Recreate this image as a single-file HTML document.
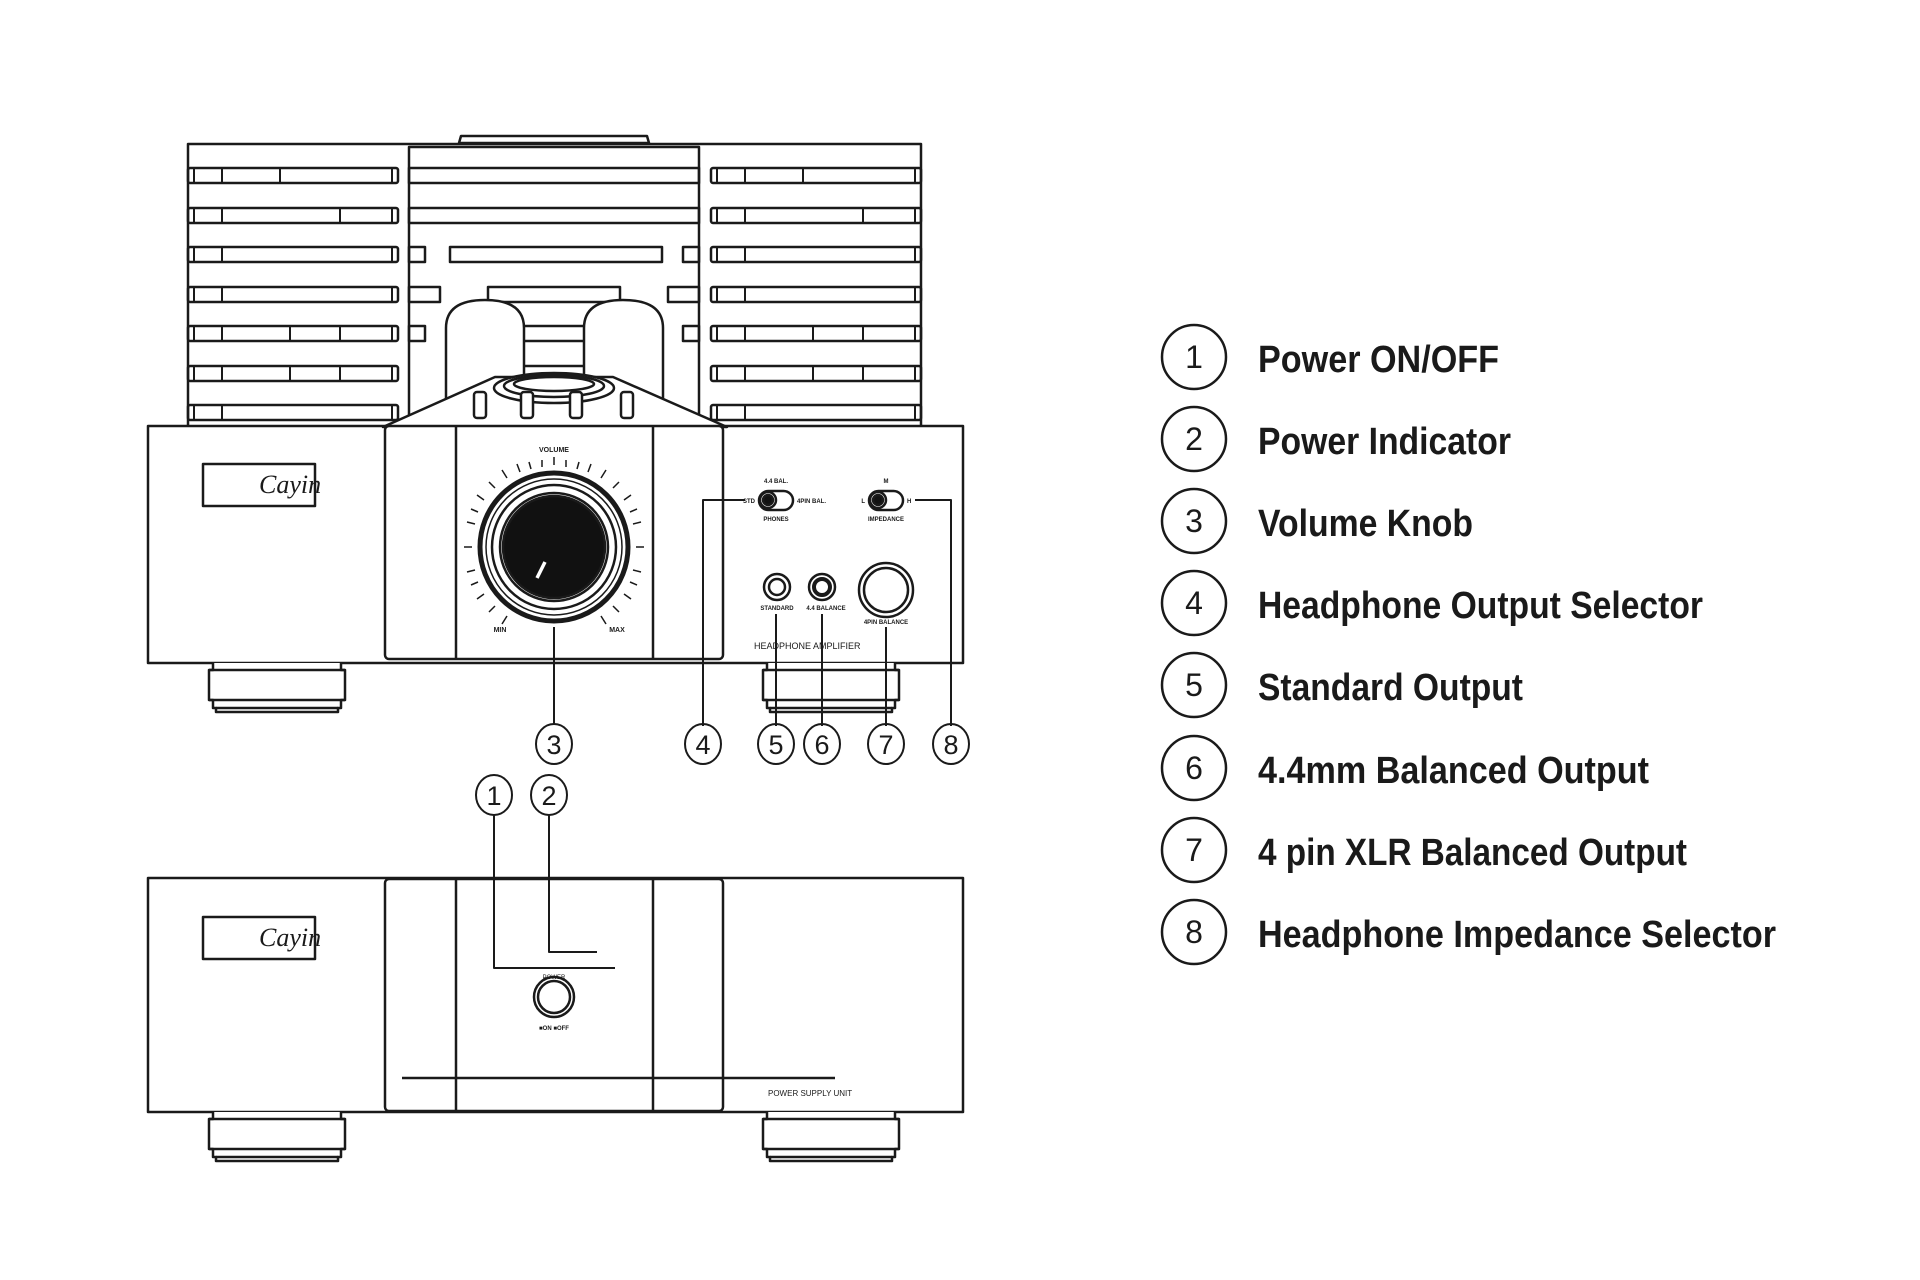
<!DOCTYPE html>
<html><head><meta charset="utf-8"><style>
html,body{margin:0;padding:0;background:#fff}
svg{display:block}
.t{font-family:"Liberation Sans",sans-serif}
</style></head><body>
<svg width="1920" height="1280" viewBox="0 0 1920 1280" xmlns="http://www.w3.org/2000/svg">
<g fill="none" stroke="#1a1a1a" stroke-width="2.5" stroke-linejoin="round">
<path d="M459 143 L461 136 L647 136 L649 143 Z" fill="#fff"/>
<rect x="188" y="144" width="733" height="285" fill="#fff"/>
<g id="slats">
<rect x="188" y="168" width="210" height="15" rx="2"/>
<rect x="188" y="208" width="210" height="15" rx="2"/>
<rect x="188" y="247" width="210" height="15" rx="2"/>
<rect x="188" y="287" width="210" height="15" rx="2"/>
<rect x="188" y="326" width="210" height="15" rx="2"/>
<rect x="188" y="366" width="210" height="15" rx="2"/>
<rect x="188" y="405" width="210" height="15" rx="2"/>
<path d="M222 168v15M222 208v15M222 247v15M222 287v15M222 326v15M222 366v15M222 405v15M194 168v15M194 208v15M194 247v15M194 287v15M194 326v15M194 366v15M194 405v15M392 168v15M392 208v15M392 247v15M392 287v15M392 326v15M392 366v15M392 405v15M280 168v15M340 208v15M290 326v15M290 366v15M340 326v15M340 366v15" stroke-width="2"/>
</g>
<use href="#slats" transform="translate(523 0)"/>
<rect x="409" y="147" width="290" height="282"/>
<rect x="409" y="168" width="290" height="15"/>
<rect x="409" y="208" width="290" height="15"/>
<rect x="450" y="247" width="212" height="15"/>
<rect x="409" y="247" width="16" height="15"/>
<rect x="683" y="247" width="16" height="15"/>
<rect x="409" y="287" width="31" height="15"/>
<rect x="488" y="287" width="132" height="15"/>
<rect x="668" y="287" width="31" height="15"/>
<rect x="409" y="326" width="16" height="15"/>
<rect x="683" y="326" width="16" height="15"/>
<path d="M446 429 V328 Q446 300 485 300 Q524 300 524 328 V429" fill="#fff"/>
<path d="M584 429 V328 Q584 300 623 300 Q663 300 663 328 V429" fill="#fff"/>
<path d="M524 326h60M524 341h60M524 366h60M524 381h60"/>
<rect x="148" y="426" width="815" height="237" fill="#fff"/>
<path d="M383 427 L495 377 L613 377 L727 427 Z" fill="#fff"/>
<ellipse cx="554" cy="388" rx="60" ry="15" fill="#fff"/>
<ellipse cx="554" cy="386" rx="50" ry="11"/>
<ellipse cx="554" cy="384" rx="40" ry="7"/>
<g fill="#fff">
<rect x="474" y="392" width="12" height="26" rx="3"/>
<rect x="521" y="392" width="12" height="26" rx="3"/>
<rect x="570" y="392" width="12" height="26" rx="3"/>
<rect x="621" y="392" width="12" height="26" rx="3"/>
</g>
<rect x="385" y="426" width="338" height="233" rx="4" fill="#fff"/>
<path d="M456 426V659M653 426V659"/>
<rect x="203" y="464" width="112" height="42"/>
<circle cx="554" cy="547" r="74" stroke-width="5"/>
<circle cx="554" cy="547" r="68" stroke-width="1.5"/>
<circle cx="554" cy="547" r="62"/>
<circle cx="554" cy="547" r="54"/>
<circle cx="554" cy="547" r="51" fill="#111"/>
<path d="M537 578 L545 562" stroke="#fff" stroke-width="3.5"/>
<g id="foot" fill="#fff">
<path d="M213 663 V670 H209 V700 H213 V708 H216 V712 H338 V708 H341 V700 H345 V670 H341 V663"/>
<path d="M209 670H345M209 700H345M216 708H338"/>
</g>
<use href="#foot" transform="translate(554 0)"/>
<rect x="759" y="491" width="34" height="19" rx="9.5"/>
<circle cx="768" cy="500" r="8"/>
<circle cx="768" cy="500" r="5" fill="#111"/>
<rect x="869" y="491" width="34" height="19" rx="9.5"/>
<circle cx="878" cy="500" r="8"/>
<circle cx="878" cy="500" r="5" fill="#111"/>
<circle cx="777" cy="587" r="13"/><circle cx="777" cy="587" r="8"/>
<circle cx="822" cy="587" r="13"/><circle cx="822" cy="587" r="8" stroke-width="4"/>
<circle cx="886" cy="590" r="27"/><circle cx="886" cy="590" r="22"/>
<path d="M554 627V724" stroke-width="2"/>
<path d="M745 500H703V726" stroke-width="2"/>
<path d="M915 500H951V726" stroke-width="2"/>
<path d="M776 614V726M822 614V726M886 627V726" stroke-width="2"/>
<rect x="148" y="878" width="815" height="234" fill="#fff"/>
<rect x="385" y="879" width="338" height="232" rx="4"/>
<path d="M456 879V1111M653 879V1111"/>
<rect x="203" y="917" width="112" height="42"/>
<path d="M402 1078H835" stroke-width="2.5"/>
<circle cx="554" cy="997" r="20"/>
<circle cx="554" cy="997" r="16"/>
<path d="M494 815V968H615M549 815V952H597" stroke-width="2"/>
<use href="#foot" transform="translate(0 449)"/>
<use href="#foot" transform="translate(554 449)"/>
<g stroke-width="2">
<ellipse cx="554" cy="744" rx="18" ry="20"/>
<ellipse cx="703" cy="744" rx="18" ry="20"/>
<ellipse cx="776" cy="744" rx="18" ry="20"/>
<ellipse cx="822" cy="744" rx="18" ry="20"/>
<ellipse cx="886" cy="744" rx="18" ry="20"/>
<ellipse cx="951" cy="744" rx="18" ry="20"/>
<ellipse cx="494" cy="795" rx="18" ry="20"/>
<ellipse cx="549" cy="795" rx="18" ry="20"/>
</g>
<g stroke-width="2.5">
<circle cx="1194" cy="357" r="32"/><circle cx="1194" cy="439" r="32"/>
<circle cx="1194" cy="521" r="32"/><circle cx="1194" cy="603" r="32"/>
<circle cx="1194" cy="685" r="32"/><circle cx="1194" cy="768" r="32"/>
<circle cx="1194" cy="850" r="32"/><circle cx="1194" cy="932" r="32"/>
</g>
</g>
<g class="t" fill="#1a1a1a">
<text x="259" y="493" font-family="Liberation Serif,serif" font-style="italic" font-size="26">Cayin</text>
<text x="259" y="946" font-family="Liberation Serif,serif" font-style="italic" font-size="26">Cayin</text>
<text x="554" y="452" font-size="7" text-anchor="middle" font-weight="bold">VOLUME</text>
<text x="500" y="632" font-size="7" text-anchor="middle" font-weight="bold">MIN</text>
<text x="617" y="632" font-size="7" text-anchor="middle" font-weight="bold">MAX</text>
<text x="776" y="483" font-size="6" text-anchor="middle" font-weight="bold">4.4 BAL.</text>
<text x="755" y="503" font-size="6" text-anchor="end" font-weight="bold">STD</text>
<text x="797" y="503" font-size="6" font-weight="bold">4PIN BAL.</text>
<text x="776" y="521" font-size="6" text-anchor="middle" font-weight="bold">PHONES</text>
<text x="886" y="483" font-size="6" text-anchor="middle" font-weight="bold">M</text>
<text x="865" y="503" font-size="6" text-anchor="end" font-weight="bold">L</text>
<text x="907" y="503" font-size="6" font-weight="bold">H</text>
<text x="886" y="521" font-size="6" text-anchor="middle" font-weight="bold">IMPEDANCE</text>
<text x="777" y="610" font-size="6" text-anchor="middle" font-weight="bold">STANDARD</text>
<text x="826" y="610" font-size="6" text-anchor="middle" font-weight="bold">4.4 BALANCE</text>
<text x="886" y="624" font-size="6" text-anchor="middle" font-weight="bold">4PIN BALANCE</text>
<text x="754" y="649" font-size="9">HEADPHONE AMPLIFIER</text>
<text x="554" y="979" font-size="6" text-anchor="middle">POWER</text>
<text x="554" y="1030" font-size="6" text-anchor="middle" font-weight="bold">■ON ■OFF</text>
<text x="768" y="1096" font-size="8">POWER SUPPLY UNIT</text>
<g font-size="27" text-anchor="middle">
<text x="554" y="754">3</text><text x="703" y="754">4</text><text x="776" y="754">5</text>
<text x="822" y="754">6</text><text x="886" y="754">7</text><text x="951" y="754">8</text>
<text x="494" y="805">1</text><text x="549" y="805">2</text>
</g>
<g font-size="32" text-anchor="middle">
<text x="1194" y="368">1</text><text x="1194" y="450">2</text><text x="1194" y="532">3</text>
<text x="1194" y="614">4</text><text x="1194" y="696">5</text><text x="1194" y="779">6</text>
<text x="1194" y="861">7</text><text x="1194" y="943">8</text>
</g>
<g font-size="38" font-weight="bold">
<text x="1258" y="372" textLength="241" lengthAdjust="spacingAndGlyphs">Power ON/OFF</text>
<text x="1258" y="454" textLength="253" lengthAdjust="spacingAndGlyphs">Power Indicator</text>
<text x="1258" y="536" textLength="215" lengthAdjust="spacingAndGlyphs">Volume Knob</text>
<text x="1258" y="618" textLength="445" lengthAdjust="spacingAndGlyphs">Headphone Output Selector</text>
<text x="1258" y="700" textLength="265" lengthAdjust="spacingAndGlyphs">Standard Output</text>
<text x="1258" y="783" textLength="391" lengthAdjust="spacingAndGlyphs">4.4mm Balanced Output</text>
<text x="1258" y="865" textLength="429" lengthAdjust="spacingAndGlyphs">4 pin XLR Balanced Output</text>
<text x="1258" y="947" textLength="518" lengthAdjust="spacingAndGlyphs">Headphone Impedance Selector</text>
</g>
</g>
<g stroke="#1a1a1a" stroke-width="1.5">
<path d="M554 465V457M554 629V637M472 547H464M636 547H644"/>
<path d="M507 478L502 470M601 478L606 470M484 594L477 599M624 594L631 599M484 500L477 495M624 500L631 495M531 469L529 462M577 469L579 462M520 472L517 464M588 472L591 464M495 488L489 482M613 488L619 482M478 512L471 509M630 512L637 509M475 524L467 522M633 524L641 522M475 570L467 572M633 570L641 572M478 582L471 585M630 582L637 585M495 606L489 612M613 606L619 612M507 616L502 624M601 616L606 624M542 467V460M566 467V460"/>
</g>
</svg>
</body></html>
